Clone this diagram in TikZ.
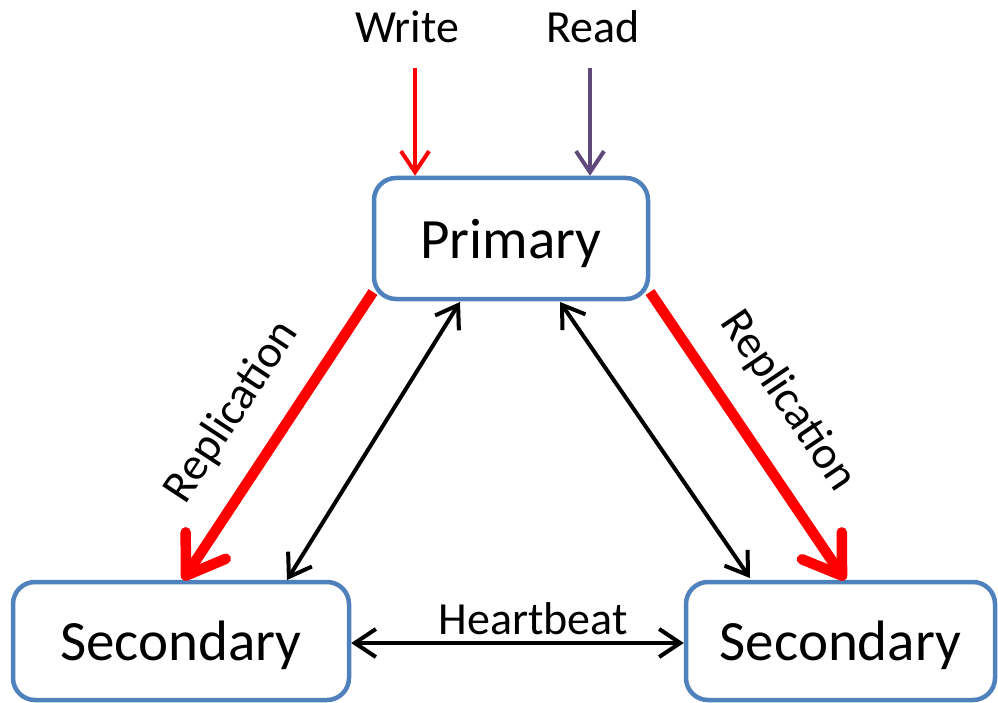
\documentclass[tikz,border=0pt]{standalone}
\usepackage{fontspec}
\setmainfont{Carlito}
\usetikzlibrary{arrows.meta,calc}
\definecolor{boxblue}{HTML}{4F81BD}
\definecolor{readpurple}{HTML}{604A7B}
\definecolor{repred}{HTML}{FF0000}
\begin{document}
\begin{tikzpicture}[x=1pt,y=-1pt,
  box/.style={draw=boxblue,line width=4.5pt,rounded corners=22pt,inner sep=0pt,text depth=0pt,
    font=\fontsize{57}{60}\selectfont,fill=white},
  lbl/.style={inner sep=0pt,font=\fontsize{46}{50}\selectfont},
  thin/.style={line width=4pt,-{Straight Barb[length=21pt,width=28pt]}},
  thinboth/.style={line width=4pt,{Straight Barb[length=21pt,width=28pt]}-{Straight Barb[length=21pt,width=28pt]}},
  rep/.style={line width=10.5pt,repred,-{Straight Barb[length=36pt,width=48pt,round]}}
]
\useasboundingbox (0,0) rectangle (998,703);
\begin{scope}
\clip (0,0) rectangle (998,703);
\node[box,minimum width=274pt,minimum height=121pt] (P) at (511,238.5) {Primary};
\node[box,minimum width=336pt,minimum height=118pt] (S1) at (181,641) {Secondary};
\node[box,minimum width=309pt,minimum height=118pt] (S2) at (840.5,641) {Secondary};
\end{scope}
\node[lbl] (W) at (407,27) {Write};
\node[lbl] (R) at (593,27) {Read};
\coordinate (wtop) at (415,68);
\coordinate (rtop) at (590,68);
\draw[thin,repred] (wtop) -- (wtop |- P.north);
\draw[thin,readpurple] (rtop) -- (rtop |- P.north);
% replication
\coordinate (pl) at (373,292);
\coordinate (pr) at (650,292);
\coordinate (s1r) at (183,580);
\coordinate (s2r) at (845,580);
\draw[rep] (pl) -- (s1r);
\draw[rep] (pr) -- (s2r);
\node[lbl,rotate=56.6] (RL) at (232,412) {Replication};
\node[lbl,rotate=-56] (RR) at (788,401) {Replication};
% heartbeat links
\coordinate (pb1) at (460,302);
\coordinate (pb2) at (560,302);
\coordinate (s1b) at (287,580);
\coordinate (s2b) at (750,578);
\draw[thinboth] (pb1) -- (s1b);
\draw[thinboth] (pb2) -- (s2b);
\draw[thinboth] (S1.east |- 0,643) -- (S2.west |- 0,643);
\node[lbl] (H) at (533,619) {Heartbeat};
\end{tikzpicture}
\end{document}
